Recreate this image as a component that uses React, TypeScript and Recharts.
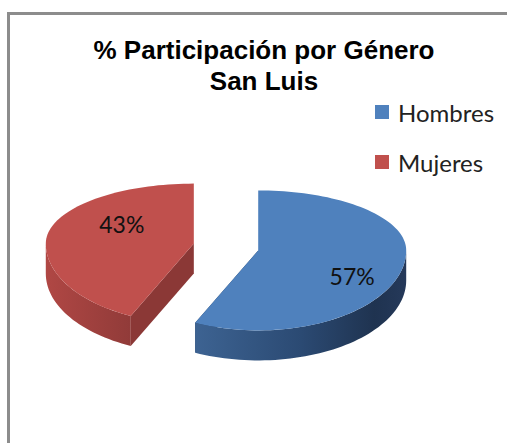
import React from 'react'
import { PieChart, Pie, Legend } from 'recharts'

const categories = ['Hombres', 'Mujeres']
const shares = [57, 43]
const topColors = ['#4f81bd', '#c0504d']
const sideIds = ['sideBlue', 'sideRed']
const faceColors = ['#223a5c', '#8b3836']

const data = categories.map((name, i) => ({ name, value: shares[i], fill: topColors[i] }))

// 3D look of the old office pie
const RX = 148
const RY_BACK = 60
const RY_FRONT = 80
const DEPTH = 30
const EXPLODE = 33
const RAD = Math.PI / 180

function rim(cx: number, cy: number, a: number, d = 0) {
  const s = Math.sin(a * RAD)
  const ry = s > 0 ? RY_BACK : RY_FRONT
  return [cx + RX * Math.cos(a * RAD), cy - ry * s + d]
}

function arcPts(cx: number, cy: number, from: number, to: number, d = 0) {
  const n = Math.max(2, Math.ceil(Math.abs(to - from) / 2))
  const pts: number[][] = []
  for (let i = 0; i <= n; i++) pts.push(rim(cx, cy, from + ((to - from) * i) / n, d))
  return pts
}

const line = (pts: number[][]) => pts.map(p => `${p[0].toFixed(2)},${p[1].toFixed(2)}`).join(' L ')

function renderSlice(props: any) {
  const { cx, cy, startAngle, endAngle, midAngle, index } = props
  const i = index ?? categories.indexOf(props.name)
  const k = (RY_BACK + RY_FRONT) / 2 / RX
  const ox = cx + EXPLODE * Math.cos(midAngle * RAD)
  const oy = cy - EXPLODE * k * Math.sin(midAngle * RAD)
  const hi = Math.max(startAngle, endAngle)
  const lo = Math.min(startAngle, endAngle)

  // radial walls
  const walls = [startAngle, endAngle].map((a, j) => {
    const p = rim(ox, oy, a)
    const d = `M ${ox},${oy} L ${p[0]},${p[1]} L ${p[0]},${p[1] + DEPTH} L ${ox},${oy + DEPTH} Z`
    return <path key={'w' + j} d={d} fill={faceColors[i]} />
  })

  // outer wall, only the part facing the viewer
  const bands: any[] = []
  for (const off of [-360, 0, 360]) {
    const a0 = Math.max(lo, -180 + off)
    const a1 = Math.min(hi, 0 + off)
    if (a1 > a0) {
      const top = arcPts(ox, oy, a1, a0)
      const bot = arcPts(ox, oy, a0, a1, DEPTH)
      bands.push(<path key={'b' + off} d={`M ${line(top)} L ${line(bot)} Z`} fill={`url(#${sideIds[i]})`} />)
    }
  }

  const topFace = `M ${ox},${oy} L ${line(arcPts(ox, oy, startAngle, endAngle))} Z`
  return (
    <g>
      {walls}
      {bands}
      <path d={topFace} fill={topColors[i]} />
    </g>
  )
}

function renderLabel(props: any) {
  const { cx, cy, midAngle, value } = props
  const x = cx + 11 + 118 * Math.cos(midAngle * RAD)
  const y = cy + 3 - 120 * Math.sin(midAngle * RAD)
  return (
    <text x={x} y={y} textAnchor="middle" dominantBaseline="central"
      fill="#111" fontFamily="Lato, 'Open Sans', sans-serif" fontSize={23}>
      {`${value}%`}
    </text>
  )
}

function LegendBox({ payload }: any) {
  return (
    <div style={{ fontFamily: "Lato, 'Open Sans', sans-serif", fontSize: 24, color: '#222' }}>
      {(payload || []).map((p: any, i: number) => (
        <div key={i} style={{ display: 'flex', alignItems: 'center', height: 50 }}>
          <span style={{ width: 14, height: 14, background: topColors[categories.indexOf(p.value)], marginRight: 9 }} />
          <span>{p.value}</span>
        </div>
      ))}
    </div>
  )
}

export default function App() {
  return (
    <div style={{ position: 'absolute', left: 0, top: 0, width: 507, height: 443, background: '#fff', overflow: 'hidden' }}>
      <div style={{ position: 'absolute', left: 7, top: 12, width: 520, height: 460, borderLeft: '3px solid #8c8c8c', borderTop: '3px solid #8c8c8c' }} />
      <div style={{
        position: 'absolute', left: 64, top: 35, width: 400, textAlign: 'center',
        fontFamily: "'Liberation Sans', Arial, sans-serif", fontWeight: 'bold', fontSize: 26, lineHeight: '31px', color: '#000'
      }}>
        % Participación por Género<br />San Luis
      </div>
      <PieChart width={507} height={443} margin={{ top: 0, right: 0, bottom: 0, left: 0 }} style={{ position: 'absolute', left: 0, top: 0 }}>
        <defs>
          <linearGradient id="sideBlue" x1="0" y1="0" x2="1" y2="0">
            <stop offset="0%" stopColor="#3d6392" />
            <stop offset="50%" stopColor="#2b4a73" />
            <stop offset="85%" stopColor="#1f3350" />
            <stop offset="100%" stopColor="#25395a" />
          </linearGradient>
          <linearGradient id="sideRed" x1="0" y1="0" x2="1" y2="0">
            <stop offset="0%" stopColor="#b04744" />
            <stop offset="100%" stopColor="#913b39" />
          </linearGradient>
        </defs>
        <Pie
          data={data}
          dataKey="value"
          nameKey="name"
          cx={226}
          cy={247}
          outerRadius={RX}
          startAngle={90}
          endAngle={-270}
          stroke="none"
          shape={renderSlice}
          label={renderLabel}
          labelLine={false}
          isAnimationActive={false}
        />
        <Legend
          content={<LegendBox />}
          layout="vertical"
          verticalAlign="top"
          align="right"
          wrapperStyle={{ position: 'absolute', left: 375, top: 87, width: 132 }}
        />
      </PieChart>
    </div>
  )
}
